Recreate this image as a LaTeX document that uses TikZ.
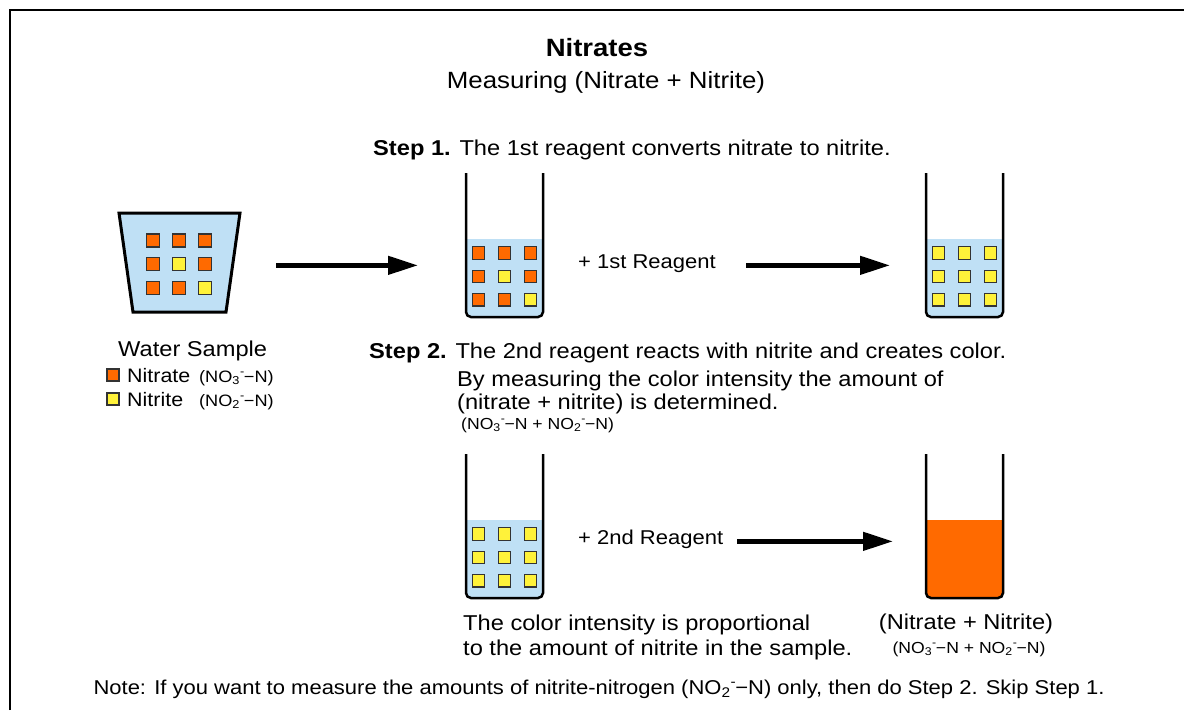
\documentclass[tikz,border=0pt]{standalone}
\usepackage{fontspec}
\setmainfont[FakeStretch=1.1]{Liberation Sans}
\usetikzlibrary{arrows.meta}
\usetikzlibrary{positioning}
\definecolor{water}{HTML}{BFE0F5}
\definecolor{nitrate}{HTML}{FF6A00}
\definecolor{nitrite}{HTML}{FFF23A}
\tikzset{my arrow/.style={-{Triangle[length=30pt, width=18pt]}, line width=4.5pt}}
\tikzstyle{ion} = [rectangle, draw=black!80, line width=1.2pt, minimum size=12.5pt, inner sep=0pt]
\tikzstyle{tube wall} = [line width=2.5pt, rounded corners=5pt]
\tikzstyle{txt} = [inner sep=0pt, anchor=base west, font=\fontsize{21.5}{25}\selectfont]
\tikzstyle{smalltxt} = [inner sep=0pt, anchor=base west, font=\fontsize{16}{19}\selectfont]
\tikzstyle{reagent} = [inner sep=0pt, anchor=base west, font=\fontsize{20}{24}\selectfont]
\newcommand{\nox}[1]{NO\textsubscript{#1}\textsuperscript{-}\kern-0.05em−N}
% test tube: name, left x, top y, liquid colour
\newcommand{\tube}[4]{%
  \coordinate (#1) at (#2+38.5,#3+72);
  \fill[#4, rounded corners=5pt] (#2,#3+66) rectangle (#2+77,#3+144);
  \fill[#4] (#2,#3+66) rectangle (#2+77,#3+80);
  \draw[tube wall] (#2,#3) -- (#2,#3+144) -- (#2+77,#3+144) -- (#2+77,#3);
}
% 3x3 block of ions in a tube
\newcommand{\ions}[3]{%
  \foreach \c [count=\i from 0] in {#3} {
    \pgfmathtruncatemacro\col{mod(\i,3)}
    \pgfmathtruncatemacro\row{\i/3}
    \node[ion, fill=\c] at (#1+12.5+26*\col, #2+80+23.4*\row) {};
  }
}

\begin{document}
\begin{tikzpicture}[x=1pt, y=-1pt]
  \useasboundingbox (0,0) rectangle (1184,710);
  \draw[line width=1.8pt] (10,710) -- (10,10) -- (1184,10);

  % headings
  \node [inner sep=0pt, anchor=base, font=\bfseries\fontsize{25}{29}\selectfont] (title) at (597,56) {Nitrates};
  \node [txt, anchor=base, font=\fontsize{23.5}{27}\selectfont] (subtitle) at (606,88) {Measuring (Nitrate + Nitrite)};
  \node [txt] (step1) at (373,155) {\textbf{Step 1.} The 1st reagent converts nitrate to nitrite.};

  % water sample
  \draw[line width=3pt, fill=water] (119,213) -- (240,213) -- (226,312) -- (133,312) -- cycle;
  \coordinate (bucket) at (180,260);
  \foreach \c [count=\i from 0] in {nitrate,nitrate,nitrate,nitrate,nitrite,nitrate,nitrate,nitrate,nitrite} {
    \pgfmathtruncatemacro\col{mod(\i,3)}
    \pgfmathtruncatemacro\row{\i/3}
    \node[ion, minimum size=13pt, fill=\c] at (153+26*\col, 240.5+23.8*\row) {};
  }
  \node [txt] (sample) at (118,356) {Water Sample};

  % legend
  \node [ion, minimum size=12pt, fill=nitrate] (keyno3) at (113,375) {};
  \node [ion, minimum size=12pt, fill=nitrite] (keyno2) at (113,399) {};
  \node [txt, font=\fontsize{19.5}{23}\selectfont] (no3) at (127,382) {Nitrate};
  \node [smalltxt, font=\fontsize{16.5}{19}\selectfont] (no3f) at (199,382) {(\nox{3})};
  \node [txt, font=\fontsize{19.5}{23}\selectfont] (no2) at (127,406) {Nitrite};
  \node [smalltxt, font=\fontsize{16.5}{19}\selectfont] (no2f) at (199,406) {(\nox{2})};

  % step 1
  \tube{tubea}{466}{173}{water}
  \ions{466}{173}{nitrate,nitrate,nitrate,nitrate,nitrite,nitrate,nitrate,nitrate,nitrite}
  \node [reagent] (rg1) at (578,268) {+ 1st Reagent};
  \tube{tubeb}{926}{173}{water}
  \ions{926}{173}{nitrite,nitrite,nitrite,nitrite,nitrite,nitrite,nitrite,nitrite,nitrite}

  % step 2
  \node [txt] (step2) at (369,358) {\textbf{Step 2.} The 2nd reagent reacts with nitrite and creates color.};
  \node [txt] (step2b) at (457,386) {By measuring the color intensity the amount of};
  \node [txt] (step2c) at (457,409) {(nitrate + nitrite) is determined.};
  \node [smalltxt] (step2d) at (461,429) {(\nox{3} + \nox{2})};

  \tube{tubec}{466}{454}{water}
  \ions{466}{454}{nitrite,nitrite,nitrite,nitrite,nitrite,nitrite,nitrite,nitrite,nitrite}
  \node [reagent] (rg2) at (578,544) {+ 2nd Reagent};
  \tube{tubed}{926}{454}{nitrate}

  \node [txt] (prop1) at (463,630) {The color intensity is proportional};
  \node [txt] (prop2) at (463,655) {to the amount of nitrite in the sample.};
  \node [txt, anchor=base] (total) at (966,629) {(Nitrate + Nitrite)};
  \node [smalltxt, anchor=base] (totalf) at (969,653) {(\nox{3} + \nox{2})};

  \node [inner sep=0pt, anchor=base, font=\fontsize{20}{23}\selectfont] (note) at (599,694)
    {Note: If you want to measure the amounts of nitrite-nitrogen (\nox{2}) only, then do Step 2. Skip Step 1.};

  % arrows
  \draw [my arrow] ([xshift=96pt]bucket |- rg1.mid) -- ([xshift=-86.5pt]tubea |- rg1.mid);
  \draw [my arrow] ([xshift=30pt]rg1.east |- rg1.mid) -- ([xshift=-74.5pt]tubeb |- rg1.mid);
  \draw [my arrow] ([xshift=14pt]rg2.east |- rg2.mid) -- ([xshift=-71.5pt]tubed |- rg2.mid);
\end{tikzpicture}
\end{document}
